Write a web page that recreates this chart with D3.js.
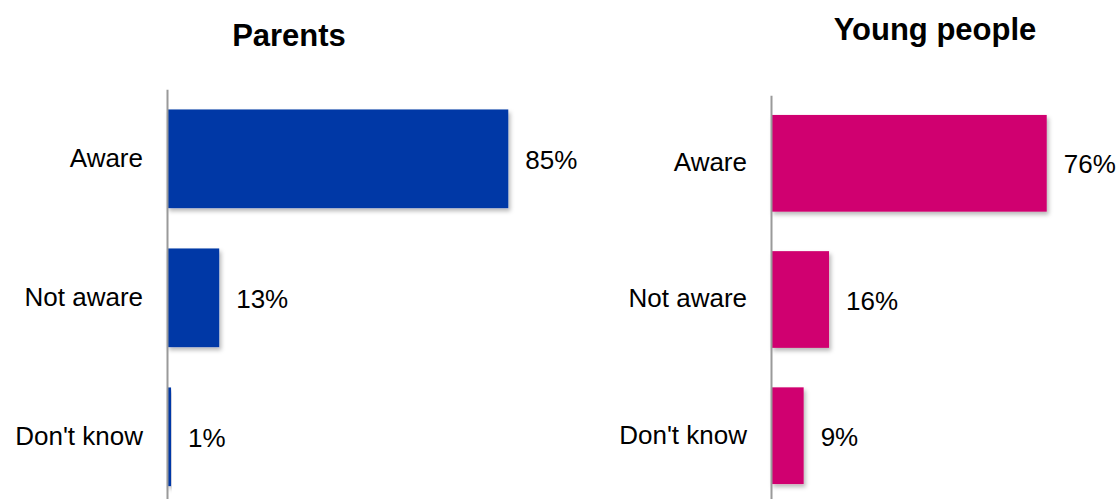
<!DOCTYPE html>
<html>
<head>
<meta charset="utf-8">
<script src="https://cdn.jsdelivr.net/npm/d3@7"></script>
<style>
  html, body { margin: 0; padding: 0; background: #fff; }
  svg { display: block; font-family: "Liberation Sans", Arial, sans-serif; }
</style>
</head>
<body>
<svg id="chart" width="1117" height="499"></svg>
<script>
// Awareness responses
const categories = ["Aware", "Not aware", "Don't know"];
const parentsValues = [85, 13, 1];
const youngValues = [76, 16, 9];
const panelTitles = ["Parents", "Young people"];

// Layout for each panel
const panels = [
  { title: panelTitles[0], values: parentsValues, color: "#0039A6",
    x0: 167, pxPerPct: 4.015, y0: 89.3, y1: 506.3, titleX: 289, titleY: 45.5 },
  { title: panelTitles[1], values: youngValues, color: "#D0006F",
    x0: 771, pxPerPct: 3.628, y0: 95.2, y1: 503.8, titleX: 935, titleY: 39.5 }
];

const svg = d3.select("#chart");

// Soft drop shadow under the bars
const defs = svg.append("defs");
const f = defs.append("filter").attr("id", "barShadow")
  .attr("x", "-10%").attr("y", "-10%").attr("width", "130%").attr("height", "130%");
f.append("feDropShadow").attr("dx", 2).attr("dy", 3)
  .attr("stdDeviation", 2).attr("flood-color", "#000").attr("flood-opacity", 0.28);

panels.forEach(p => {
  const g = svg.append("g");
  const data = categories.map((c, i) => ({ cat: c, value: p.values[i] }));

  const x = d3.scaleLinear().domain([0, 100]).range([p.x0, p.x0 + 100 * p.pxPerPct]);
  const y = d3.scaleBand().domain(categories).range([p.y0, p.y1])
    .paddingInner(0.29).paddingOuter(0.145);

  // Bars
  g.selectAll("rect.bar").data(data).join("rect")
    .attr("class", "bar")
    .attr("x", x(0))
    .attr("y", d => y(d.cat))
    .attr("width", d => x(d.value) - x(0))
    .attr("height", y.bandwidth())
    .attr("fill", p.color)
    .attr("filter", "url(#barShadow)");

  // Category axis
  const axis = g.append("g")
    .attr("transform", `translate(${x(0)},0)`)
    .call(d3.axisLeft(y).tickSize(0).tickPadding(24));
  axis.select(".domain").attr("stroke", "#9a9a9a").attr("stroke-width", 2);
  axis.selectAll("text")
    .attr("font-size", 26)
    .attr("font-family", "'Liberation Sans', Arial, sans-serif")
    .attr("fill", "#000")
    .attr("dy", "0.3em");

  // Value labels
  g.selectAll("text.val").data(data).join("text")
    .attr("class", "val")
    .attr("x", d => x(d.value) + 17)
    .attr("y", d => y(d.cat) + y.bandwidth() / 2)
    .attr("dy", "0.39em")
    .attr("font-size", 26)
    .attr("fill", "#000")
    .text(d => d.value + "%");

  // Panel title
  g.append("text")
    .attr("x", p.titleX)
    .attr("y", p.titleY)
    .attr("text-anchor", "middle")
    .attr("font-size", 31)
    .attr("font-weight", "bold")
    .attr("fill", "#000")
    .text(p.title);
});
</script>
</body>
</html>
